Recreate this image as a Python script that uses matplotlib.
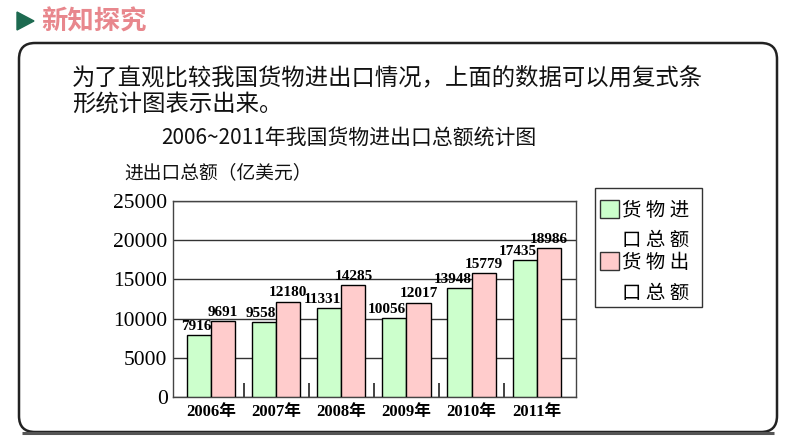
import matplotlib.pyplot as plt
import numpy as np
from matplotlib.patches import Rectangle, FancyBboxPatch, Polygon

# chart data
years = ['2006年', '2007年', '2008年', '2009年', '2010年', '2011年']
imports = [7916, 9558, 11331, 10056, 13948, 17435]
exports = [9691, 12180, 14285, 12017, 15779, 18986]
y_ticks = [0, 5000, 10000, 15000, 20000, 25000]

cjk = 'Noto Sans CJK SC'
serif = ['Liberation Serif', cjk]
green = '#ccffcc'
pink = '#ffcccc'

fig = plt.figure(figsize=(7.94, 4.47), dpi=100)
fig.patch.set_facecolor('white')

# decoration layer in pixel coordinates
deco = fig.add_axes([0, 0, 1, 1], zorder=-1)
deco.set_xlim(0, 794)
deco.set_ylim(447, 0)
deco.axis('off')
deco.add_patch(FancyBboxPatch((19, 43), 758, 389, boxstyle='round,pad=0,rounding_size=16',
                              fc='white', ec='#222222', lw=1.8))
deco.plot([22, 774], [433, 433], color='#555555', lw=2.2, solid_capstyle='butt')
deco.add_patch(Polygon([[17, 12], [17, 30], [34, 21]], closed=True, color='#1d6a50'))
deco.text(41, 22, '新知探究', fontsize=19, fontweight='bold', family=cjk,
          color='#e8878d', va='center', ha='left')
deco.text(72, 78, '为了直观比较我国货物进出口情况，上面的数据可以用复式条',
          fontsize=16.8, family=cjk, va='center', ha='left', color='#111111')
deco.text(72, 104, '形统计图表示出来。', fontsize=16.8, family=cjk,
          va='center', ha='left', color='#111111')
deco.text(349, 138, '2006~2011年我国货物进出口总额统计图', fontsize=15, family=cjk,
          va='center', ha='center', color='#111111')
deco.text(124, 173, '进出口总额（亿美元）', fontsize=13.5, family=cjk,
          va='center', ha='left', color='#111111')

# main chart
ax = fig.add_axes([0.218, 0.112, 0.507, 0.438])
x = np.arange(len(years))
w = 0.37
ax.bar(x - w / 2, imports, width=w, color=green, edgecolor='black', lw=1, zorder=3)
ax.bar(x + w / 2, exports, width=w, color=pink, edgecolor='black', lw=1, zorder=3)

for i in range(len(years)):
    ax.text(x[i], imports[i] + 250, str(imports[i]), ha='right', va='bottom',
            fontsize=11, fontweight='bold', family=serif, zorder=4)
    ax.text(x[i] + w / 2, exports[i] + 300, str(exports[i]), ha='center', va='bottom',
            fontsize=11, fontweight='bold', family=serif, zorder=4)

ax.set_xlim(-0.585, 5.6)
ax.set_ylim(0, 25000)
ax.set_yticks(y_ticks)
ax.set_yticklabels([str(v) for v in y_ticks], fontsize=15.5, family=serif)
ax.yaxis.grid(True, color='#333333', lw=1)
ax.set_axisbelow(True)
ax.tick_params(axis='y', length=0, pad=4)

ax.set_xticks(x)
ax.set_xticklabels(years, fontsize=12, fontweight='bold', family=serif)
ax.tick_params(axis='x', which='major', length=0, pad=5)
ax.set_xticks(x[:-1] + 0.5, minor=True)
ax.tick_params(axis='x', which='minor', direction='in', length=10, width=1.2, color='#222222')

for s in ax.spines.values():
    s.set_color('#444444')
    s.set_linewidth(1)

# legend box
fig.add_artist(Rectangle((0.749, 0.314), 0.135, 0.265, transform=fig.transFigure,
                         fc='white', ec='#333333', lw=1))
fig.add_artist(Rectangle((0.756, 0.512), 0.023, 0.041, transform=fig.transFigure,
                         fc=green, ec='#333333', lw=1))
fig.add_artist(Rectangle((0.756, 0.395), 0.023, 0.041, transform=fig.transFigure,
                         fc=pink, ec='#333333', lw=1))
legend_lines = [('货 物 进', 210), ('口 总 额', 240), ('货 物 出', 262), ('口 总 额', 293)]
for txt, py in legend_lines:
    fig.text(0.784, 1 - py / 447, txt, fontsize=14, family=cjk, va='center', ha='left')

fig.savefig('out.png', dpi=100)
